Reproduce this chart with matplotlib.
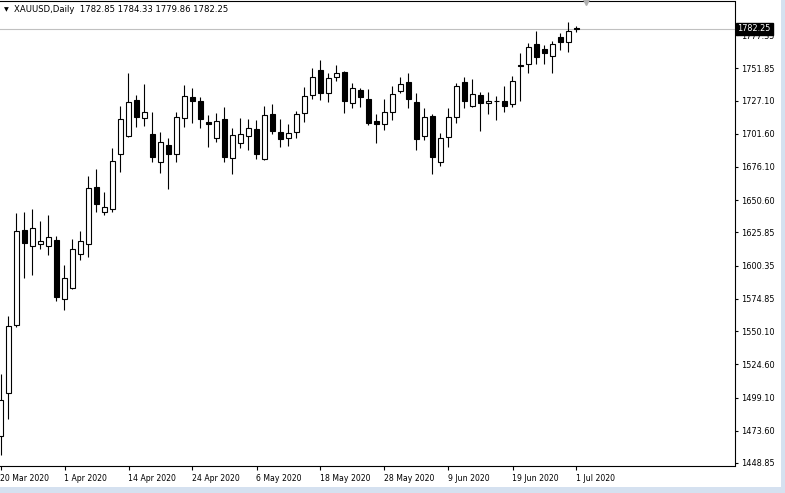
import matplotlib
matplotlib.use("Agg")
import matplotlib.pyplot as plt
import matplotlib.transforms as mtransforms
from matplotlib.patches import Rectangle

HEADER = "XAUUSD,Daily  1782.85 1784.33 1779.86 1782.25"

# one date label every 8 bars, first bar = 20 Mar 2020
DATE_LABELS = ["20 Mar 2020", "1 Apr 2020", "14 Apr 2020", "24 Apr 2020", "6 May 2020",
               "18 May 2020", "28 May 2020", "9 Jun 2020", "19 Jun 2020", "1 Jul 2020"]
LABEL_STEP = 8

OPEN = [1469.6, 1502.6, 1554.8, 1627.7, 1615.4, 1617.0, 1615.4, 1620.0, 1574.7, 1583.2,
        1609.3, 1617.0, 1660.7, 1641.5, 1643.8, 1686.1, 1699.9, 1727.5, 1713.7, 1701.4,
        1679.9, 1693.0, 1686.1, 1713.7, 1729.8, 1726.7, 1710.6, 1698.3, 1712.9, 1683.0,
        1694.5, 1699.9, 1705.3, 1682.2, 1716.8, 1702.9, 1698.3, 1702.9, 1717.5, 1731.4,
        1750.5, 1732.9, 1745.2, 1749.0, 1725.2, 1735.2, 1728.3, 1711.4, 1709.1, 1718.3,
        1734.4, 1741.3, 1726.0, 1699.9, 1715.2, 1679.9, 1699.1, 1714.5, 1741.3, 1722.9,
        1731.4, 1725.2, 1726.7, 1726.7, 1724.4, 1754.4, 1755.1, 1770.5, 1766.7, 1761.3,
        1775.9, 1772.0, 1782.85]
HIGH = [1517.2, 1561.7, 1640.8, 1641.5, 1643.8, 1634.6, 1639.2, 1623.1, 1600.8, 1620.8,
        1626.9, 1669.2, 1674.5, 1656.9, 1690.7, 1722.9, 1748.2, 1731.4, 1739.8, 1718.3,
        1702.9, 1698.3, 1718.3, 1739.0, 1736.7, 1729.8, 1716.0, 1717.5, 1722.1, 1706.0,
        1713.7, 1712.9, 1712.2, 1722.9, 1724.4, 1712.9, 1709.1, 1719.1, 1737.5, 1752.1,
        1758.2, 1748.2, 1754.4, 1749.6, 1740.6, 1736.7, 1736.0, 1716.8, 1728.3, 1738.3,
        1745.2, 1748.2, 1732.9, 1721.4, 1716.8, 1702.2, 1721.4, 1740.6, 1745.2, 1743.6,
        1733.7, 1733.7, 1730.6, 1738.3, 1745.9, 1763.6, 1771.3, 1780.5, 1769.7, 1772.8,
        1779.0, 1787.4, 1784.33]
LOW = [1455.0, 1482.6, 1553.2, 1590.9, 1593.2, 1613.1, 1608.5, 1573.2, 1566.3, 1582.5,
       1604.7, 1607.0, 1641.5, 1639.2, 1641.5, 1672.2, 1699.0, 1706.8, 1707.6, 1679.9,
       1671.5, 1659.2, 1679.9, 1706.8, 1709.9, 1706.0, 1691.4, 1695.3, 1679.9, 1670.7,
       1690.7, 1689.1, 1682.2, 1681.5, 1701.4, 1691.4, 1692.2, 1698.3, 1710.6, 1728.3,
       1727.5, 1726.0, 1742.1, 1717.5, 1721.4, 1722.1, 1708.3, 1694.5, 1704.5, 1712.2,
       1732.9, 1721.4, 1689.1, 1696.8, 1670.7, 1676.8, 1691.4, 1709.9, 1721.4, 1722.1,
       1703.7, 1716.8, 1712.2, 1718.3, 1722.1, 1726.7, 1748.2, 1755.1, 1755.1, 1748.2,
       1765.9, 1764.4, 1779.86]
CLOSE = [1497.2, 1554.0, 1626.9, 1617.7, 1629.3, 1619.3, 1622.3, 1576.3, 1590.9, 1613.1,
         1619.3, 1660.0, 1647.7, 1645.4, 1680.7, 1712.9, 1726.0, 1714.5, 1718.3, 1683.8,
         1695.3, 1686.1, 1714.5, 1730.6, 1726.7, 1712.9, 1709.1, 1711.4, 1683.8, 1700.6,
         1701.4, 1706.0, 1686.1, 1716.0, 1703.7, 1697.6, 1702.2, 1716.8, 1730.6, 1745.2,
         1732.9, 1744.4, 1748.2, 1726.7, 1736.7, 1729.8, 1709.9, 1709.1, 1718.3, 1732.1,
         1739.8, 1728.3, 1697.6, 1714.5, 1683.8, 1698.3, 1714.5, 1738.3, 1726.7, 1732.1,
         1725.2, 1726.7, 1727.0, 1722.9, 1742.1, 1754.0, 1768.2, 1760.5, 1763.6, 1770.5,
         1772.0, 1780.5, 1782.25]

PRICE_TICKS = [1777.35, 1751.85, 1727.10, 1701.60, 1676.10, 1650.60, 1625.85, 1600.35,
               1574.85, 1550.10, 1524.60, 1499.10, 1473.60, 1448.85]
LAST_PRICE = 1782.25

FONT = "DejaVu Sans"
W, H = 785, 493

fig = plt.figure(figsize=(W / 100, H / 100), dpi=100, facecolor="white")
ax = fig.add_axes([0, 27 / H, 734.5 / W, 465.5 / H])
ax.set_facecolor("white")

# ── bougies ──
n = len(OPEN)
ax.vlines(range(n), LOW, HIGH, color="black", linewidth=0.8, zorder=3)
for i in range(n):
    o, c = OPEN[i], CLOSE[i]
    fc = "white" if c >= o else "black"
    ax.add_patch(Rectangle((i - 0.28, min(o, c)), 0.56, abs(c - o),
                           facecolor=fc, edgecolor="black", linewidth=0.8, zorder=4))

# ligne bid
ax.axhline(LAST_PRICE, color="#c0c0c0", linewidth=0.8, zorder=1)

ax.set_xlim(-0.0625, 91.75)
ax.set_ylim(1446.54, 1803.9)

# ── axes ──
for side in ("top", "right", "bottom"):
    ax.spines[side].set_linewidth(0.8)
    ax.spines[side].set_color("black")
ax.spines["left"].set_visible(False)

ax.set_xticks([k * LABEL_STEP for k in range(len(DATE_LABELS))])
ax.set_xticklabels(DATE_LABELS, ha="left", fontsize=5.6, family=FONT)
ax.tick_params(axis="x", direction="out", length=3, width=0.8, pad=2.5, colors="black")

ax.yaxis.tick_right()
ax.set_yticks(PRICE_TICKS)
ax.set_yticklabels([f"{v:.2f}" for v in PRICE_TICKS], fontsize=5.9, family=FONT)
ax.tick_params(axis="y", direction="out", length=2.5, width=0.8, pad=2, colors="black")

# étiquette du dernier prix
trans = mtransforms.blended_transform_factory(ax.transAxes, ax.transData)
ax.text(1.0, LAST_PRICE, "1782.25", transform=trans + mtransforms.ScaledTranslation(3 / 100, 0, fig.dpi_scale_trans),
        ha="left", va="center", color="white", fontsize=5.9, family=FONT, zorder=10, clip_on=False,
        bbox=dict(boxstyle="square,pad=0.2", fc="black", ec="black"))

# triangle de décalage du graphique
ax.plot([73.2], [1802.6], marker="v", markersize=4, color="#b0b0b0", clip_on=False, zorder=6)

# en-tête
fig.text(4 / W, 1 - 10 / H, "\u25bc", fontsize=4.5, family=FONT, va="center", ha="left")
fig.text(14 / W, 1 - 10 / H, HEADER, fontsize=6.1, family=FONT, va="center", ha="left")

# bordures de fenêtre
fig.patches.append(Rectangle((0, 0), 1, 6 / H, transform=fig.transFigure,
                             facecolor="#d5e1f0", edgecolor="none", zorder=0))
fig.patches.append(Rectangle((781 / W, 0), 4 / W, 1, transform=fig.transFigure,
                             facecolor="#d5e1f0", edgecolor="none", zorder=0))

fig.savefig("out.png", dpi=100, facecolor="white")
